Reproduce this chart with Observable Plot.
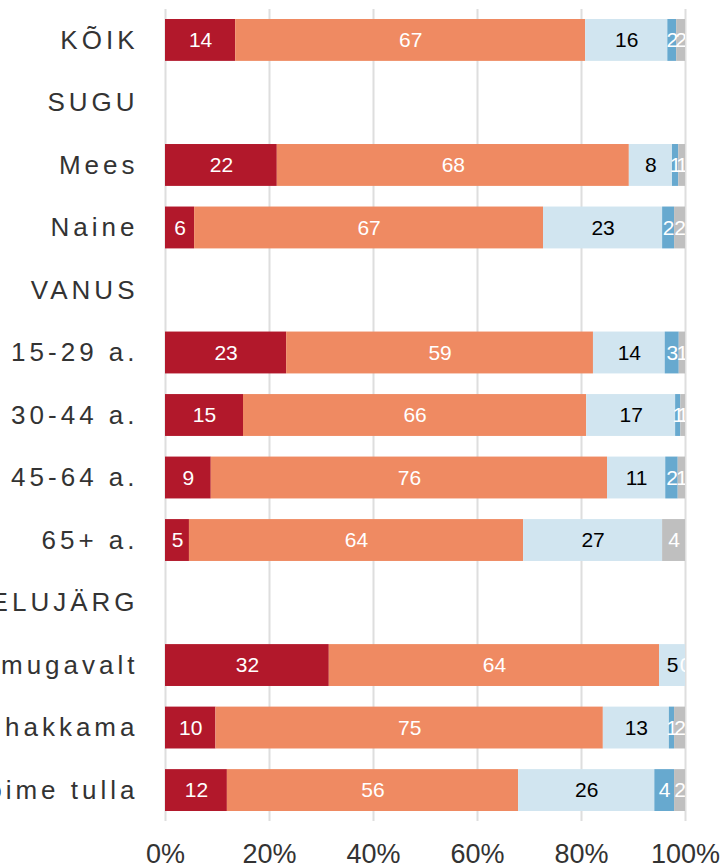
<!DOCTYPE html>
<html>
<head>
<meta charset="utf-8">
<script src="https://cdn.jsdelivr.net/npm/d3@7"></script>
<script src="https://cdn.jsdelivr.net/npm/@observablehq/plot@0.6"></script>
<style>
  html, body { margin: 0; padding: 0; background: #fff; }
  #chart svg { display: block; overflow: hidden; }
</style>
</head>
<body>
<div id="chart"></div>
<script>
// Row labels (group headers have no bars)
const rows = ["KÕIK", "SUGU", "Mees", "Naine", "VANUS", "15-29 a.", "30-44 a.", "45-64 a.", "65+ a.", "ELUJÄRG", "Elan mugavalt", "Saan hakkama", "Raske toime tulla"];

// Answer categories (in stacking order)
const categories = ["Väga hea", "Pigem hea", "Pigem halb", "Väga halb", "Ei oska öelda"];
const catColors = ["#b2182b", "#ef8a62", "#d1e5f0", "#67a9cf", "#bfbfbf"];

// Percentages per category (estimated unrounded shares), aligned with rows
// null = no bar / no value; labels show the rounded value
const s1 = [13.5, null, 21.5, 5.6, null, 23.3, 15.0, 8.8, 4.6, null, 31.5, 9.7, 11.9];
const s2 = [67.3, null, 67.7, 67.1, null, 59.0, 66.0, 76.2, 64.2, null, 63.5, 74.5, 56.0];
const s3 = [15.8, null, 8.3, 22.9, null, 13.8, 17.1, 11.2, 26.7, null, 5.0, 12.7, 26.2];
const s4 = [1.7, null, 1.2, 2.3, null, 2.7, 1.0, 2.4, null, null, 0, 1.0, 3.8];
const s5 = [1.7, null, 1.3, 2.1, null, 1.2, 0.9, 1.4, 4.4, null, null, 2.1, 2.1];

const xTicks = [0, 0.2, 0.4, 0.6, 0.8, 1];

const series = [s1, s2, s3, s4, s5];
const data = [];
rows.forEach((r, i) => {
  series.forEach((s, j) => {
    if (s[i] != null) data.push({row: r, cat: categories[j], value: s[i]});
  });
});

const stackOpts = (extra) => Plot.stackX({offset: "normalize"}, {x: "value", y: "row", z: "cat", ...extra});

const plot = Plot.plot({
  width: 720,
  height: 868,
  marginLeft: 165,
  marginRight: 35,
  marginTop: 9,
  marginBottom: 47,
  style: {fontFamily: "'Liberation Sans', Arial, sans-serif", background: "#fff"},
  x: {domain: [0, 1], ticks: xTicks, tickFormat: d3.format(".0%")},
  y: {domain: rows, paddingInner: 0.33, paddingOuter: 0.16, round: false},
  color: {domain: categories, range: catColors},
  marks: [
    Plot.gridX(xTicks, {stroke: "#dedede", strokeOpacity: 1, strokeWidth: 2}),
    Plot.barX(data, stackOpts({fill: "cat"})),
    Plot.text(data, stackOpts({
      text: (d) => (d.cat !== categories[2] ? String(Math.round(d.value)) : null),
      fill: "white",
      fontSize: 21,
      clip: true
    })),
    Plot.text(data, stackOpts({
      text: (d) => (d.cat === categories[2] ? String(Math.round(d.value)) : null),
      fill: "black",
      fontSize: 21,
      clip: true
    })),
    Plot.axisX({ticks: xTicks, tickFormat: d3.format(".0%"), tickSize: 0, tickPadding: 22, fontSize: 27, color: "#333", label: null}),
    Plot.axisY({tickSize: 0, tickPadding: 27, fontSize: 26, color: "#333", label: null})
  ]
});

d3.select(plot).selectAll('g[aria-label="y-axis tick label"] text').style("letter-spacing", "4px");
document.getElementById("chart").appendChild(plot);
</script>
</body>
</html>
